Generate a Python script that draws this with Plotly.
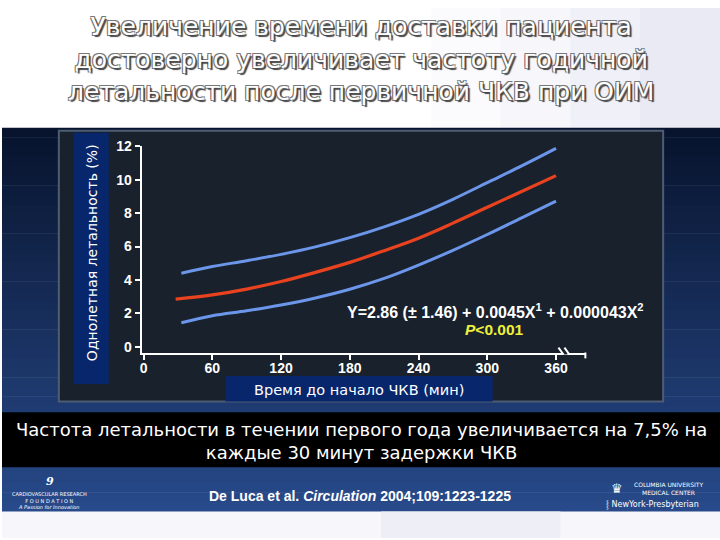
import plotly.graph_objects as go

# ---- data ----
red_x = [28, 60, 90, 120, 150, 180, 210, 240, 270, 300, 330, 360]
red_y = [2.85, 3.1, 3.45, 3.9, 4.45, 5.05, 5.75, 6.5, 7.4, 8.35, 9.3, 10.25]
blue_x = [33, 60, 90, 120, 150, 180, 210, 240, 270, 300, 330, 360]
upper_y = [4.4, 4.8, 5.15, 5.53, 5.98, 6.53, 7.18, 7.93, 8.83, 9.83, 10.83, 11.88]
lower_y = [1.43, 1.85, 2.15, 2.5, 2.92, 3.44, 4.09, 4.89, 5.77, 6.72, 7.72, 8.72]
x_ticks = [0, 60, 120, 180, 240, 300, 360]
y_ticks = [0, 2, 4, 6, 8, 10, 12]

W, H = 720, 540
def px(x):
    return x / W
def py(y):
    return 1 - y / H

TXT_FONT = "DejaVu Sans"
BOLD_FONT = "Liberation Sans"

fig = go.Figure()
fig.add_trace(go.Scatter(x=blue_x, y=upper_y, mode="lines", line=dict(color="#6b96ea", width=3, shape="spline"), hoverinfo="skip"))
fig.add_trace(go.Scatter(x=red_x, y=red_y, mode="lines", line=dict(color="#e8421e", width=3.2, shape="spline"), hoverinfo="skip"))
fig.add_trace(go.Scatter(x=blue_x, y=lower_y, mode="lines", line=dict(color="#6b96ea", width=3, shape="spline"), hoverinfo="skip"))

shapes = []
def rect(x0, y0, x1, y1, fill, line=None, lw=0, layer="below"):
    shapes.append(dict(type="rect", xref="paper", yref="paper", x0=px(x0), x1=px(x1), y0=py(y1), y1=py(y0),
                       fillcolor=fill, line=dict(color=line or fill, width=lw), layer=layer))
def seg(x0, y0, x1, y1, color="white", w=2):
    shapes.append(dict(type="line", xref="paper", yref="paper", x0=px(x0), y0=py(y0), x1=px(x1), y1=py(y1),
                       line=dict(color=color, width=w), layer="above"))

# top white/lavender background
rect(0, 0, 720, 122, "#ffffff")
for i, c in enumerate(["#fbfbfd", "#f6f6fb", "#f0f0f8", "#eaeaf5"]):
    rect(430 + i * 70, 0, 720, 122, c)
# dark blue band with vertical gradient
top_c = (8, 20, 46)
bot_c = (40, 74, 138)
n = 40
for i in range(n):
    t = i / (n - 1)
    c = tuple(int(top_c[k] + (bot_c[k] - top_c[k]) * t) for k in range(3))
    y0 = 122 + (513 - 122) * i / n
    y1 = 122 + (513 - 122) * (i + 1) / n + 0.5
    rect(0, y0, 720, y1, "rgb(%d,%d,%d)" % c)
# bottom white area
rect(0, 513, 720, 540, "#f7f7fb")
rect(380, 513, 560, 540, "#eeeef6")
# chart panel
rect(57, 125, 663, 401, "#19212d", line="#4d5d74", lw=2)
# y label box, x label box
rect(72, 127, 107, 383, "#07266c")
rect(224, 375, 492, 401, "#07266c")
# black caption band
rect(0, 412, 720, 468, "#000000")

# axis break marks and end tick
shapes.append(dict(type="rect", xref="paper", yref="paper", x0=px(563), x1=px(567), y0=py(353), y1=py(349),
                   fillcolor="#19212d", line=dict(width=0), layer="above"))
for dx in (0, 6):
    seg(558 + dx, 346, 563 + dx, 353)
seg(585, 351, 585, 357)

ann = []
def text(x, y, s, size, color="white", family=TXT_FONT, shadow=None, **kw):
    f = dict(size=size, color=color, family=family)
    if shadow:
        f["shadow"] = shadow
    d = dict(x=px(x), y=py(y), xref="paper", yref="paper", text=s, showarrow=False,
             font=f, xanchor="center", yanchor="middle")
    d.update(kw)
    ann.append(d)

title_shadow = "2px 2px 1px #444, -1px -1px 0 #777, 1px -1px 0 #777, -1px 1px 0 #777"
text(360, 52, "Увеличение времени доставки пациента<br>достоверно увеличивает частоту годичной<br>"
              "летальности после первичной ЧКВ при ОИМ", 25, shadow=title_shadow)

text(91, 249, "Однолетная летальность (%)", 14, textangle=-90)
text(358, 389, "Время до начало ЧКВ (мин)", 14.5)

text(495, 309, "<b>Y=2.86 (± 1.46) + 0.0045X<sup>1</sup> + 0.000043X<sup>2</sup></b>", 16, family=BOLD_FONT)
text(494, 328, "<b><i>P</i>&lt;0.001</b>", 15.5, color="#eef03c", family=BOLD_FONT)

text(360, 441, "Частота летальности в течении первого года увеличивается на 7,5% на<br>"
               "каждые 30 минут задержки ЧКВ", 18)

text(359, 497, "<b>De Luca et al. <i>Circulation</i> 2004;109:1223-1225</b>", 14, family=BOLD_FONT)

# logos (text approximations)
text(48, 482, "<b><i>9</i></b>", 11, family="DejaVu Serif")
text(48, 502, "CARDIOVASCULAR RESEARCH<br>F O U N D A T I O N<br><i>A Passion for Innovation</i>", 5)
text(617, 490, "♛", 13)
text(632, 490, "COLUMBIA UNIVERSITY<br>MEDICAL CENTER", 6, xanchor="left")
text(652, 506, "⸾ NewYork-Presbyterian", 8)

fig.update_layout(
    width=W, height=H, margin=dict(l=0, r=0, t=0, b=0),
    paper_bgcolor="#ffffff", plot_bgcolor="rgba(0,0,0,0)",
    showlegend=False, shapes=shapes, annotations=ann,
    xaxis=dict(domain=[px(140), px(586)], range=[-1.7, 386.5], showgrid=False, zeroline=False,
               showline=True, linecolor="white", linewidth=2,
               tickmode="array", tickvals=x_ticks, ticktext=[str(v) for v in x_ticks],
               ticks="outside", ticklen=5, tickwidth=2, tickcolor="white", ticklabelstandoff=-3,
               tickfont=dict(family=BOLD_FONT, size=14, color="white", weight="bold")),
    yaxis=dict(domain=[py(351), py(141)], range=[-0.35, 12.0], showgrid=False, zeroline=False,
               showline=True, linecolor="white", linewidth=2,
               tickmode="array", tickvals=y_ticks, ticktext=[str(v) for v in y_ticks],
               ticks="outside", ticklen=5, tickwidth=2, tickcolor="white",
               tickfont=dict(family=BOLD_FONT, size=14, color="white", weight="bold")),
)
fig.write_html("out.html", post_script="document.body.style.margin='0';",
               config={"displayModeBar": False})
